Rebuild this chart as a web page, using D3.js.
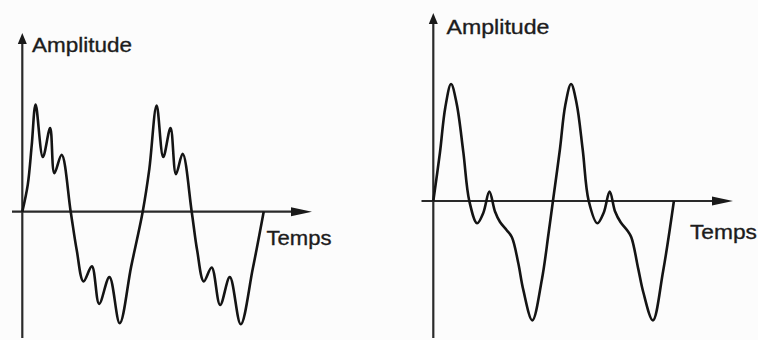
<!DOCTYPE html>
<html>
<head>
<meta charset="utf-8">
<script src="https://cdn.jsdelivr.net/npm/d3@7/dist/d3.min.js"></script>
<style>
  html, body { margin: 0; padding: 0; background: #fcfcfc; }
  svg { display: block; }
  text { font-family: "Liberation Sans", Arial, Helvetica, sans-serif; fill: #1c1c1c; stroke: #1c1c1c; stroke-width: 0.35; }
</style>
</head>
<body>
<svg id="chart" width="758" height="340"></svg>
<script>
// Axis titles
const yTitle = "Amplitude";
const xTitle = "Temps";

// Left signal: fundamental with superimposed high-frequency ripples (two periods, 10 time units each)
const leftTime = [0, 0.45, 0.78, 1.1, 1.7, 2.3, 2.65, 3.25, 4.0, 4.5, 5.05, 5.75, 6.35, 7.2, 8.05, 9.0, 9.95, 10.5, 11.1, 11.65, 12.25, 12.7, 13.25, 14.0, 14.45, 15.0, 15.65, 16.35, 17.15, 18.05, 19.05, 19.95];
const leftAmplitude = [0, 0.25, 0.62, 1.0, 0.51, 0.78, 0.36, 0.53, 0, -0.36, -0.65, -0.51, -0.86, -0.61, -1.04, -0.51, 0, 0.4, 0.99, 0.51, 0.78, 0.35, 0.54, 0, -0.36, -0.65, -0.52, -0.87, -0.61, -1.05, -0.53, 0];

// Right signal: fundamental with a lower-amplitude harmonic (two periods)
const rightTime = [0, 0.55, 1.0, 1.48, 1.95, 2.5, 3.0, 3.65, 4.17, 4.67, 5.14, 5.56, 6.12, 6.55, 7.08, 7.5, 8.25, 9.05, 9.6, 9.97, 10.55, 11.0, 11.48, 11.95, 12.45, 12.95, 13.67, 14.2, 14.7, 15.15, 15.6, 16.15, 16.5, 17.08, 17.5, 18.3, 19.15, 20.05];
const rightAmplitude = [0, 0.41, 0.8, 1.0, 0.83, 0.42, 0, -0.19, -0.1, 0.08, -0.09, -0.18, -0.25, -0.31, -0.53, -0.76, -1.02, -0.67, -0.28, 0, 0.44, 0.82, 1.0, 0.83, 0.44, 0, -0.19, -0.1, 0.08, -0.09, -0.18, -0.25, -0.31, -0.58, -0.78, -1.02, -0.6, 0];

const svg = d3.select("#chart");

const panels = [
  {
    time: leftTime, amp: leftAmplitude,
    x: d3.scaleLinear().domain([0, 10]).range([22.3, 143.3]),
    y: d3.scaleLinear().domain([0, 1]).range([211.7, 104.5]),
    xAxisFrom: 12, xAxisTo: 312, yAxisTop: 33, yAxisBottom: 338,
    yTitlePos: [32, 52, 100], xTitlePos: [266.5, 245, 65]
  },
  {
    time: rightTime, amp: rightAmplitude,
    x: d3.scaleLinear().domain([0, 10]).range([433.3, 553.3]),
    y: d3.scaleLinear().domain([0, 1]).range([201, 84]),
    xAxisFrom: 421.5, xAxisTo: 733, yAxisTop: 13, yAxisBottom: 338,
    yTitlePos: [446.5, 34, 103], xTitlePos: [690, 238.5, 67]
  }
];

panels.forEach(p => {
  const g = svg.append("g");
  const x0 = p.x(0), y0 = p.y(0);

  // time axis
  g.append("line")
    .attr("x1", p.xAxisFrom).attr("y1", y0)
    .attr("x2", p.xAxisTo - 12).attr("y2", y0)
    .attr("stroke", "#2a2a2a").attr("stroke-width", 2.2);
  g.append("path")
    .attr("d", `M${p.xAxisTo},${y0} L${p.xAxisTo - 21},${y0 - 4.5} L${p.xAxisTo - 21},${y0 + 4.5} Z`)
    .attr("fill", "#1a1a1a");

  // amplitude axis
  g.append("line")
    .attr("x1", x0).attr("y1", p.yAxisBottom)
    .attr("x2", x0).attr("y2", p.yAxisTop + 6)
    .attr("stroke", "#2a2a2a").attr("stroke-width", 2.2);
  g.append("path")
    .attr("d", `M${x0},${p.yAxisTop} L${x0 - 4.5},${p.yAxisTop + 11} L${x0 + 4.5},${p.yAxisTop + 11} Z`)
    .attr("fill", "#1a1a1a");

  // signal
  const pts = p.time.map((t, i) => [t, p.amp[i]]);
  const line = d3.line()
    .x(d => p.x(d[0]))
    .y(d => p.y(d[1]))
    .curve(d3.curveCatmullRom.alpha(0.5));
  g.append("path")
    .attr("d", line(pts))
    .attr("fill", "none")
    .attr("stroke", "#141414")
    .attr("stroke-width", 2.6)
    .attr("stroke-linejoin", "round");

  // titles
  g.append("text")
    .attr("x", p.yTitlePos[0]).attr("y", p.yTitlePos[1])
    .attr("font-size", 21)
    .attr("textLength", p.yTitlePos[2]).attr("lengthAdjust", "spacingAndGlyphs")
    .text(yTitle);
  g.append("text")
    .attr("x", p.xTitlePos[0]).attr("y", p.xTitlePos[1])
    .attr("font-size", 21)
    .attr("textLength", p.xTitlePos[2]).attr("lengthAdjust", "spacingAndGlyphs")
    .text(xTitle);
});
</script>
</body>
</html>
